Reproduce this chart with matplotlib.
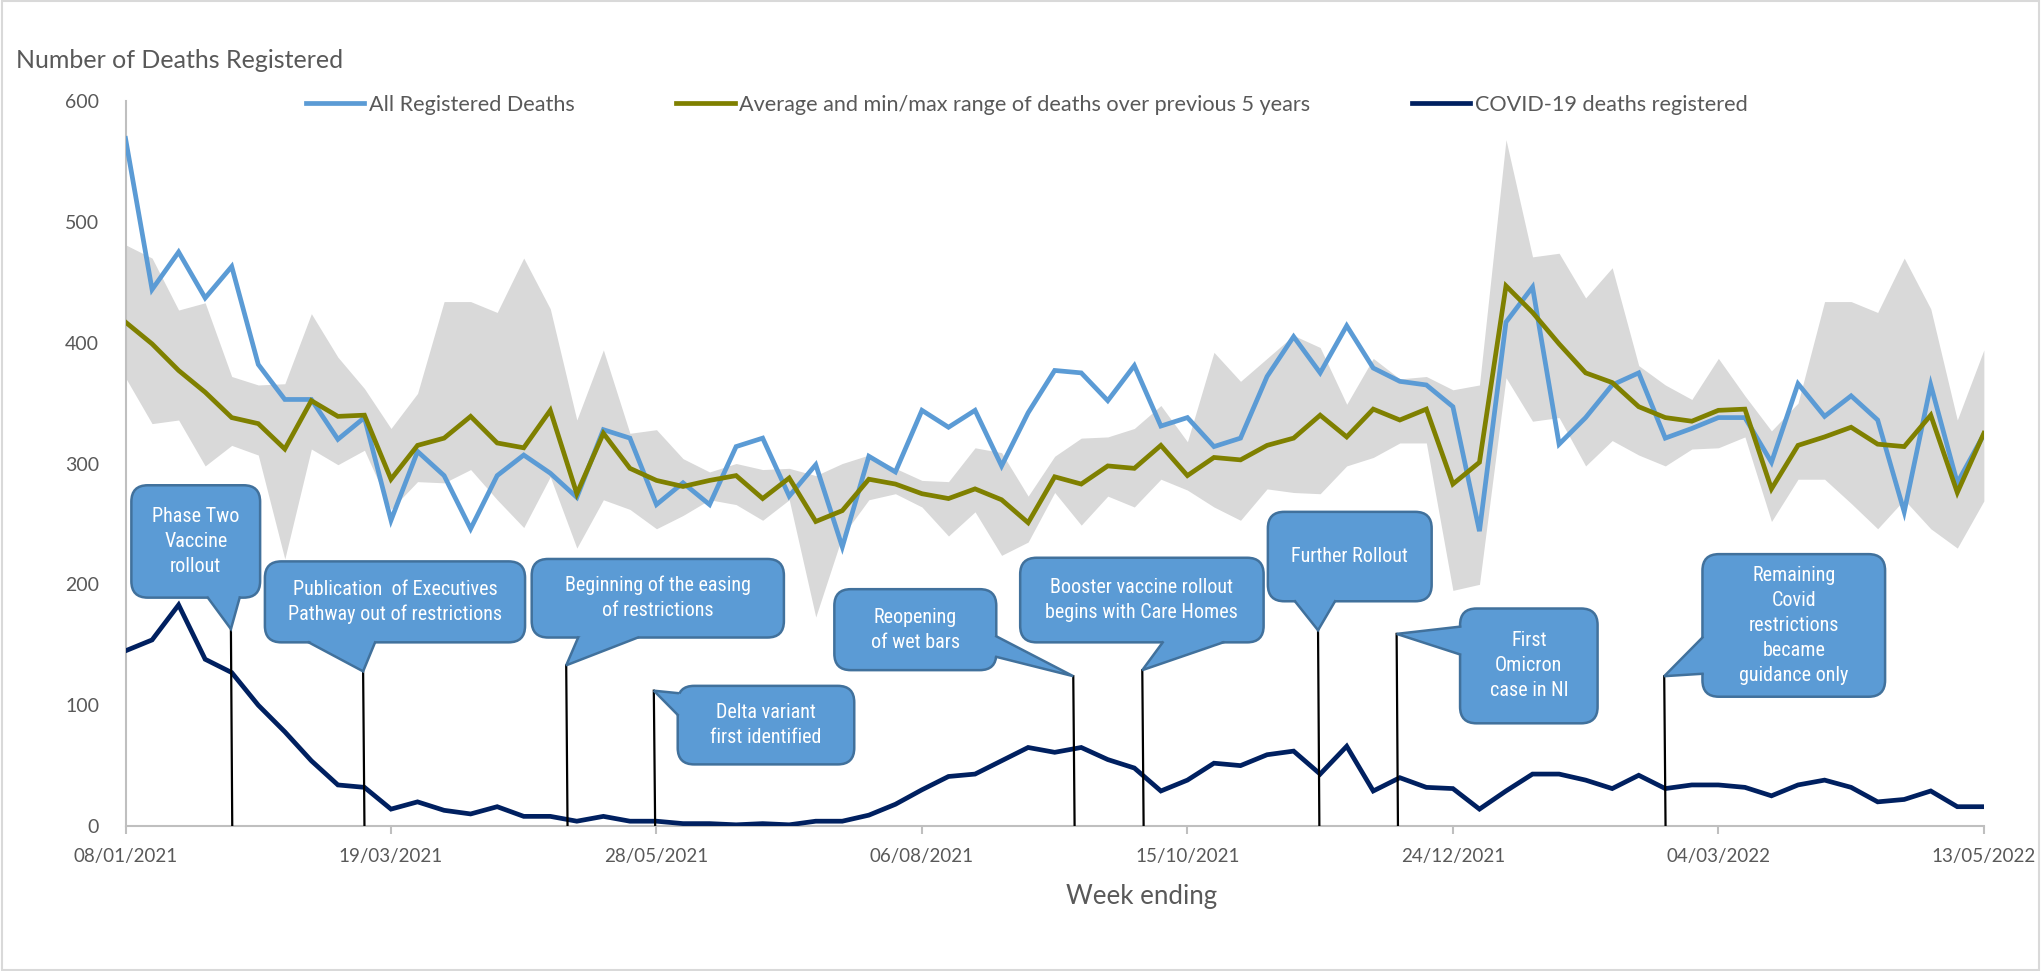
import numpy as np
import pandas as pd
import matplotlib
matplotlib.use("Agg")
import matplotlib.pyplot as plt
from matplotlib import font_manager
from matplotlib.patches import FancyBboxPatch, Polygon, Rectangle

# weekly registrations, week ending 08/01/2021 .. 13/05/2022
weeks = pd.date_range("2021-01-08", "2022-05-13", freq="7D")

all_deaths = [569, 444, 475, 437, 463, 382, 353, 353, 320, 338,
              253, 310, 290, 246, 290, 307, 292, 272, 328, 321,
              266, 284, 266, 314, 321, 273, 299, 231, 306, 293,
              344, 330, 344, 298, 342, 377, 375, 352, 381, 331,
              338, 314, 321, 372, 405, 375, 414, 379, 368, 365,
              347, 244, 417, 446, 316, 338, 365, 375, 321, 329,
              338, 338, 301, 366, 339, 356, 336, 260, 365, 284,
              324]

avg_5yr = [417, 399, 377, 359, 338, 333, 312, 352, 339, 340,
           287, 315, 321, 339, 317, 313, 344, 275, 325, 296,
           286, 281, 286, 290, 271, 288, 252, 261, 287, 283,
           275, 271, 279, 270, 251, 289, 283, 298, 296, 315,
           290, 305, 303, 315, 321, 340, 322, 345, 336, 345,
           283, 301, 447, 425, 399, 375, 367, 347, 338, 335,
           344, 345, 279, 315, 322, 330, 316, 314, 340, 276,
           325]

max_5yr = [481, 470, 427, 433, 372, 365, 366, 424, 388, 362,
           329, 358, 434, 434, 425, 470, 428, 336, 394, 325,
           328, 304, 293, 300, 295, 296, 290, 300, 307, 296,
           286, 285, 313, 309, 273, 306, 321, 322, 329, 348,
           318, 392, 368, 387, 406, 396, 349, 387, 370, 372,
           361, 365, 568, 471, 474, 437, 462, 381, 365, 353,
           387, 356, 327, 350, 434, 434, 425, 470, 428, 336,
           394]

min_5yr = [371, 333, 336, 298, 315, 307, 221, 312, 299, 311,
           262, 285, 284, 295, 270, 247, 289, 230, 270, 262,
           246, 257, 270, 266, 253, 270, 173, 240, 270, 275,
           264, 240, 260, 224, 235, 276, 249, 273, 264, 287,
           278, 264, 253, 279, 276, 275, 298, 305, 317, 317,
           195, 200, 371, 335, 338, 298, 319, 307, 298, 312,
           313, 322, 252, 287, 287, 267, 246, 270, 246, 230,
           269]

covid_deaths = [145, 154, 183, 138, 127, 100, 78, 54, 34, 32,
                14, 20, 13, 10, 16, 8, 8, 4, 8, 4,
                4, 2, 2, 1, 2, 1, 4, 4, 9, 18,
                30, 41, 43, 54, 65, 61, 65, 55, 48, 29,
                38, 52, 50, 59, 62, 43, 66, 29, 40, 32,
                31, 14, 29, 43, 43, 38, 31, 42, 31, 34,
                34, 32, 25, 34, 38, 32, 20, 22, 29, 16,
                16]

series_labels = ["All Registered Deaths",
                 "Average and min/max range of deaths over previous 5 years",
                 "COVID-19 deaths registered"]

# callouts: text, box (x0, x1, y0, y1), wedge base points, pointer tip
notes = [
    ("Phase Two\nVaccine\nrollout", (0.22, 5.07, 189, 282), [(3.1, 189), (4.3, 189)], (3.97, 163)),
    ("Publication  of Executives\nPathway out of restrictions", (5.25, 15.05, 152, 219), [(6.9, 152), (9.4, 152)], (8.95, 128)),
    ("Beginning of the easing\nof restrictions", (15.3, 24.8, 156, 221), [(17.05, 156), (19.3, 156)], (16.6, 133)),
    ("Delta variant\nfirst identified", (20.8, 27.45, 51, 116), [(20.8, 110), (20.8, 92)], (19.9, 112)),
    ("Reopening\nof wet bars", (26.7, 32.8, 129, 196), [(32.8, 157), (32.8, 140)], (35.7, 124)),
    ("Booster vaccine rollout\nbegins with Care Homes", (33.7, 42.87, 152, 222), [(39.07, 152), (41.35, 152)], (38.3, 129)),
    ("Further Rollout", (43.03, 49.2, 186, 260), [(44.05, 186), (45.56, 186)], (44.92, 162)),
    ("First\nOmicron\ncase in NI", (50.27, 55.45, 85, 180), [(50.27, 165), (50.27, 142)], (47.88, 159)),
    ("Remaining\nCovid\nrestrictions\nbecame\nguidance only", (59.4, 66.28, 107, 225), [(59.4, 156), (59.4, 126)], (57.96, 124)),
]

names = {f.name for f in font_manager.fontManager.ttflist}
main_font = "Lato" if "Lato" in names else "DejaVu Sans"
narrow = ["Liberation Sans Narrow", "DejaVu Sans Condensed", "Roboto Condensed",
          "Open Sans Condensed", "Noto Sans Condensed"]
note_font = next((n for n in narrow if n in names), main_font)
plt.rcParams["font.family"] = [main_font, "DejaVu Sans"]

blue = "#5B9BD5"
olive = "#7F8000"
navy = "#002060"
band = "#D9D9D9"
txt = "#595959"

x = np.arange(len(weeks))

fig = plt.figure(figsize=(20.41, 9.71), dpi=100)
ax = fig.add_axes([0.0615, 0.1493, 0.9105, 0.7467])

ax.fill_between(x, min_5yr, max_5yr, color=band, lw=0, zorder=1)
l1, = ax.plot(x, all_deaths, color=blue, lw=3.4, zorder=3, solid_joinstyle="miter")
l2, = ax.plot(x, avg_5yr, color=olive, lw=3.4, zorder=3, solid_joinstyle="miter")
l3, = ax.plot(x, covid_deaths, color=navy, lw=3.4, zorder=3, solid_joinstyle="miter")

ax.set_xlim(0, 70)
ax.set_ylim(0, 600)

# pixel aspect so the rounded corners come out round
px_x = 0.9105 * 2041 / 70
px_y = 0.7467 * 971 / 600
asp = px_x / px_y

for text, (x0, x1, y0, y1), base, tip in notes:
    # line from the pointer tip down to the axis
    ax.plot([tip[0], tip[0] + 0.05], [tip[1], 0], color="black", lw=1.6, zorder=4)
    box = FancyBboxPatch((x0, y0), x1 - x0, y1 - y0,
                         boxstyle="round,pad=0,rounding_size=0.62",
                         mutation_aspect=asp, fc=blue, ec="#41719C", lw=1.8, zorder=5)
    ax.add_patch(box)
    cx, cy = (x0 + x1) / 2, (y0 + y1) / 2
    b1, b2 = base
    i1 = (b1[0] + (cx - b1[0]) * 0.08, b1[1] + (cy - b1[1]) * 0.08)
    i2 = (b2[0] + (cx - b2[0]) * 0.08, b2[1] + (cy - b2[1]) * 0.08)
    ax.add_patch(Polygon([b1, tip, b2, i2, i1], closed=True, fc=blue, ec="none", zorder=6))
    ax.plot([b1[0], tip[0], b2[0]], [b1[1], tip[1], b2[1]], color="#41719C", lw=1.8,
            zorder=7, solid_joinstyle="miter")
    ax.text(cx, cy, text, ha="center", va="center", color="white", fontsize=14.5,
            family=[note_font, "DejaVu Sans"], linespacing=1.4, zorder=8)

for side in ["top", "right"]:
    ax.spines[side].set_visible(False)
for side in ["left", "bottom"]:
    ax.spines[side].set_color("#BFBFBF")
    ax.spines[side].set_linewidth(1.5)

ax.set_yticks(range(0, 601, 100))
ax.tick_params(axis="y", length=0, pad=19, labelsize=14, labelcolor=txt)
tick_idx = list(range(0, 71, 10))
ax.set_xticks(tick_idx)
ax.set_xticklabels([weeks[i].strftime("%d/%m/%Y") for i in tick_idx])
ax.tick_params(axis="x", length=6, width=1.5, color="#BFBFBF", pad=10, labelsize=13.5, labelcolor=txt)

fig.text(16 / 2041, 1 - 61 / 971, "Number of Deaths Registered", ha="left", va="center",
         fontsize=18, color=txt)
fig.text(1142 / 2041, 1 - 896 / 971, "Week ending", ha="center", va="center",
         fontsize=18.6, color=txt)

fig.legend([l1, l2, l3], series_labels, loc="center", bbox_to_anchor=(0.503, 1 - 105 / 971),
           ncol=3, frameon=False, handlelength=2.7, handletextpad=0.2, columnspacing=4.7,
           fontsize=15.6, labelcolor=txt)

fig.add_artist(Rectangle((0.001, 0.001), 0.998, 0.998, transform=fig.transFigure,
                         fill=False, ec="#D9D9D9", lw=1.5))

fig.savefig("out.png", dpi=100)
